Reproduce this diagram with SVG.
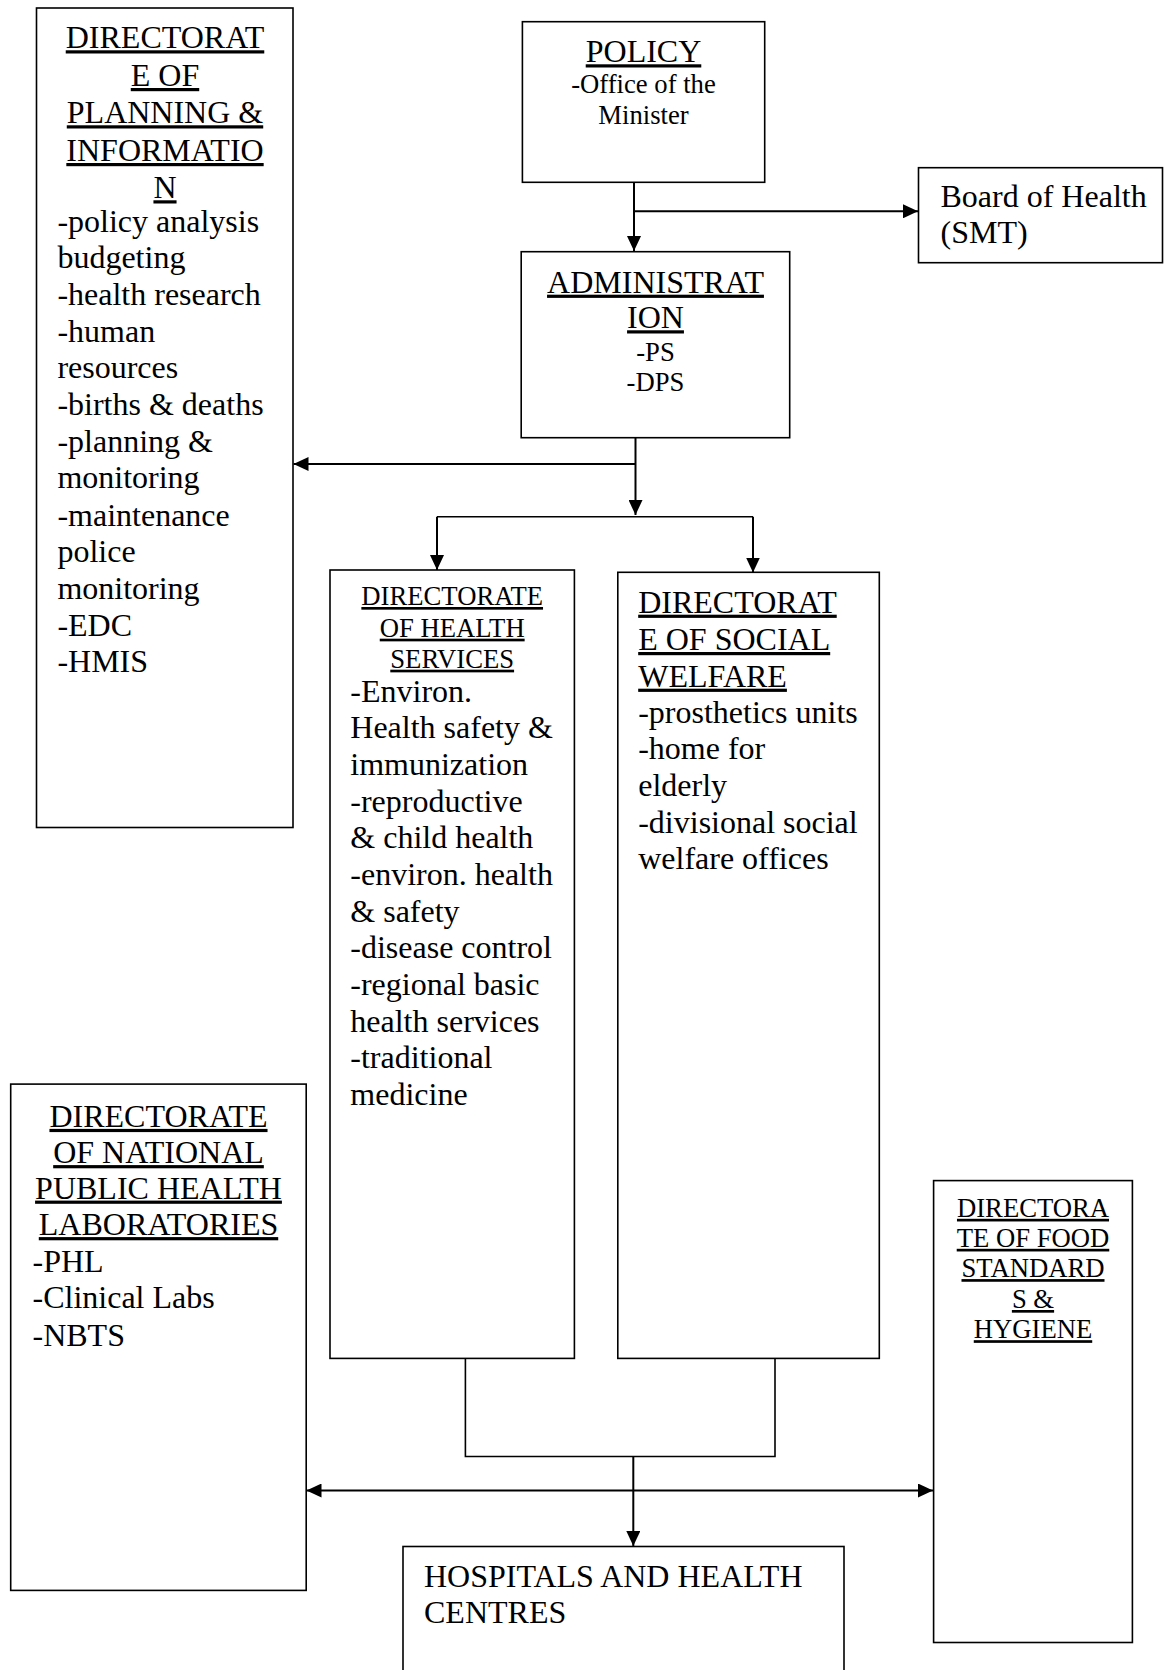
<svg xmlns="http://www.w3.org/2000/svg" width="1164" height="1670" viewBox="0 0 1164 1670">
<style>
.box{fill:#fff;stroke:#000;stroke-width:1.6}
text{font-family:"Liberation Serif","Times New Roman",serif;fill:#000}
.b{font-size:32px}
.s{font-size:26.67px}
.c{text-anchor:middle}
.u{text-decoration:underline}
.ln{fill:none;stroke:#000;stroke-width:2}
.br{fill:none;stroke:#000;stroke-width:1.6}
</style>
<defs>
<marker id="ah" markerUnits="userSpaceOnUse" viewBox="0 0 15 14" refX="15" refY="7" markerWidth="15" markerHeight="14" orient="auto-start-reverse">
<path d="M0,0 L15,7 L0,14 z" fill="#000"/>
</marker>
</defs>
<rect width="1164" height="1670" fill="#fff"/>

<g id="connectors">
<path class="ln" d="M634,182 V251" marker-end="url(#ah)"/>
<path class="ln" d="M634,211.3 H918" marker-end="url(#ah)"/>
<path class="ln" d="M635.5,437.7 V515" marker-end="url(#ah)"/>
<path class="ln" d="M635.5,464 H293.5" marker-end="url(#ah)"/>
<path class="br" d="M437,516.7 H753"/>
<path class="ln" d="M437,516.7 V570" marker-end="url(#ah)"/>
<path class="ln" d="M753,516.7 V572.5" marker-end="url(#ah)"/>
<path class="br" d="M465.4,1358.4 V1456.5 H775 V1358.4"/>
<path class="ln" d="M633.3,1456.5 V1546" marker-end="url(#ah)"/>
<path class="ln" d="M306.5,1490.5 H933" marker-start="url(#ah)" marker-end="url(#ah)"/>
</g>

<g id="planning">
<rect class="box" x="36.5" y="8" width="256.5" height="819.5"/>
<text class="b c u" x="165" y="48.3">DIRECTORAT</text>
<text class="b c u" x="165" y="86">E OF</text>
<text class="b c u" x="165" y="123.3">PLANNING &amp;</text>
<text class="b c u" x="165" y="161">INFORMATIO</text>
<text class="b c u" x="165" y="198.3">N</text>
<text class="b" x="57.4" y="231.7">-policy analysis</text>
<text class="b" x="57.4" y="268.3">budgeting</text>
<text class="b" x="57.4" y="305">-health research</text>
<text class="b" x="57.4" y="341.7">-human</text>
<text class="b" x="57.4" y="378.3">resources</text>
<text class="b" x="57.4" y="415">-births &amp; deaths</text>
<text class="b" x="57.4" y="451.7">-planning &amp;</text>
<text class="b" x="57.4" y="488.4">monitoring</text>
<text class="b" x="57.4" y="525.5">-maintenance</text>
<text class="b" x="57.4" y="562.2">police</text>
<text class="b" x="57.4" y="599">monitoring</text>
<text class="b" x="57.4" y="635.7">-EDC</text>
<text class="b" x="57.4" y="672.3">-HMIS</text>
</g>

<g id="policy">
<rect class="box" x="522.4" y="21.7" width="242.3" height="160.6"/>
<text class="b c u" x="643.5" y="62.3">POLICY</text>
<text class="s c" x="643.5" y="93.3">-Office of the</text>
<text class="s c" x="643.5" y="124.3">Minister</text>
</g>

<g id="board">
<rect class="box" x="918.5" y="167.7" width="244" height="95"/>
<text class="b" x="940.5" y="207.3">Board of Health</text>
<text class="b" x="940.5" y="243.3">(SMT)</text>
</g>

<g id="administration">
<rect class="box" x="521.2" y="251.7" width="268.5" height="186"/>
<text class="b c u" x="655.5" y="292.7">ADMINISTRAT</text>
<text class="b c u" x="655.5" y="328.3">ION</text>
<text class="s c" x="655.5" y="361">-PS</text>
<text class="s c" x="655.5" y="391">-DPS</text>
</g>

<g id="health-services">
<rect class="box" x="330" y="570" width="244.4" height="788.4"/>
<text class="s c u" x="452.2" y="605">DIRECTORATE</text>
<text class="s c u" x="452.2" y="636.7">OF HEALTH</text>
<text class="s c u" x="452.2" y="667.7">SERVICES</text>
<text class="b" x="350.3" y="701.7">-Environ.</text>
<text class="b" x="350.3" y="738.3">Health safety &amp;</text>
<text class="b" x="350.3" y="775">immunization</text>
<text class="b" x="350.3" y="811.7">-reproductive</text>
<text class="b" x="350.3" y="848.3">&amp; child health</text>
<text class="b" x="350.3" y="885">-environ. health</text>
<text class="b" x="350.3" y="921.7">&amp; safety</text>
<text class="b" x="350.3" y="958.3">-disease control</text>
<text class="b" x="350.3" y="995">-regional basic</text>
<text class="b" x="350.3" y="1031.7">health services</text>
<text class="b" x="350.3" y="1068.3">-traditional</text>
<text class="b" x="350.3" y="1105">medicine</text>
</g>

<g id="social-welfare">
<rect class="box" x="617.8" y="572.3" width="261.5" height="786.1"/>
<text class="b u" x="638.2" y="612.7">DIRECTORAT</text>
<text class="b u" x="638.2" y="650">E OF SOCIAL</text>
<text class="b u" x="638.2" y="686.7">WELFARE</text>
<text class="b" x="638.2" y="722.7">-prosthetics units</text>
<text class="b" x="638.2" y="759.3">-home for</text>
<text class="b" x="638.2" y="796">elderly</text>
<text class="b" x="638.2" y="832.7">-divisional social</text>
<text class="b" x="638.2" y="869.3">welfare offices</text>
</g>

<g id="laboratories">
<rect class="box" x="10.7" y="1084.1" width="295.5" height="506.3"/>
<text class="b c u" x="158.5" y="1126.9">DIRECTORATE</text>
<text class="b c u" x="158.5" y="1163.1">OF NATIONAL</text>
<text class="b c u" x="158.5" y="1198.6">PUBLIC HEALTH</text>
<text class="b c u" x="158.5" y="1235.1">LABORATORIES</text>
<text class="b" x="32.5" y="1272">-PHL</text>
<text class="b" x="32.5" y="1308.4">-Clinical Labs</text>
<text class="b" x="32.5" y="1345.5">-NBTS</text>
</g>

<g id="food-standards">
<rect class="box" x="933.6" y="1180.6" width="198.8" height="461.9"/>
<text class="s c u" x="1033" y="1216.8">DIRECTORA</text>
<text class="s c u" x="1033" y="1246.8">TE OF FOOD</text>
<text class="s c u" x="1033" y="1277.1">STANDARD</text>
<text class="s c u" x="1033" y="1308">S &amp;</text>
<text class="s c u" x="1033" y="1338.2">HYGIENE</text>
</g>

<g id="hospitals">
<rect class="box" x="403" y="1546.5" width="441" height="140"/>
<text class="b" x="424" y="1586.7">HOSPITALS AND HEALTH</text>
<text class="b" x="424" y="1623.3">CENTRES</text>
</g>
</svg>
